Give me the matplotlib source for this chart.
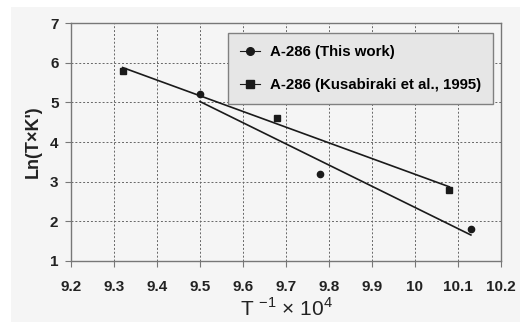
import matplotlib
matplotlib.use('Agg')
import matplotlib.pyplot as plt
import numpy as np

plt.rcParams['font.family'] = ['Liberation Sans', 'DejaVu Sans']
plt.rcParams['mathtext.fontset'] = 'custom'
plt.rcParams['mathtext.rm'] = 'Liberation Sans'

# data
x_this = [9.5, 9.78, 10.13]
y_this = [5.2, 3.2, 1.8]
x_kus = [9.32, 9.68, 10.08]
y_kus = [5.8, 4.6, 2.8]
label_this = 'A-286 (This work)'
label_kus = 'A-286 (Kusabiraki et al., 1995)'

fig = plt.figure(figsize=(5.2, 3.22), dpi=100, facecolor='white')
# light gray panel behind everything
fig.patches.append(plt.Rectangle((11/520, 0), 1, 1 - 7/322, transform=fig.transFigure,
                                 facecolor='#f5f5f5', edgecolor='none', zorder=-10))
ax = fig.add_axes([71/520, 1 - 261/322, 430/520, 238/322])
ax.set_facecolor('#f5f5f5')

# trend lines (least squares)
for xs, ys in [(x_this, y_this), (x_kus, y_kus)]:
    p = np.polyfit(xs, ys, 1)
    xx = np.array([min(xs), max(xs)])
    ax.plot(xx, np.polyval(p, xx), color='#1a1a1a', lw=1.2, zorder=3)

ax.plot(x_this, y_this, 'o', color='#1a1a1a', ms=4.5, zorder=4)
ax.plot(x_kus, y_kus, 's', color='#1a1a1a', ms=4.3, zorder=4)

# legend handles: marker with a short line through it
h1, = ax.plot([], [], '-o', color='#1a1a1a', ms=5.5, lw=0.8)
h2, = ax.plot([], [], '-s', color='#1a1a1a', ms=5.5, lw=0.8)
leg = ax.legend([h1, h2], [label_this, label_kus], loc='upper right',
                bbox_to_anchor=(0.981, 0.958), borderaxespad=0,
                prop={'weight': 'bold', 'size': 10.8},
                facecolor='#e6e6e6', edgecolor='#808080', framealpha=1,
                fancybox=False, handlelength=1.3, handletextpad=0.65,
                borderpad=0.8, labelspacing=1.3)
leg.get_frame().set_linewidth(1.0)

ax.set_xlim(9.2, 10.2)
ax.set_ylim(1, 7)
ax.set_xticks(np.arange(9.2, 10.21, 0.1))
ax.set_xticklabels(['9.2', '9.3', '9.4', '9.5', '9.6', '9.7', '9.8', '9.9', '10', '10.1', '10.2'])
ax.set_yticks(range(1, 8))
ax.grid(True, linestyle=(0, (2, 2)), color='#666666', lw=0.7)
ax.set_axisbelow(True)

for s in ax.spines.values():
    s.set_color('#777777')
    s.set_linewidth(1.0)
ax.tick_params(direction='out', length=4, color='#777777', labelcolor='#222222',
               labelsize=11)
ax.tick_params(axis='x', pad=10)
ax.tick_params(axis='y', pad=5)
for lab in ax.get_xticklabels() + ax.get_yticklabels():
    lab.set_fontweight('bold')

ax.set_ylabel("Ln(T×K')", fontsize=13, fontweight='bold', color='#222222', labelpad=6)
ax.set_xlabel(r'T $^{\mathrm{-1}}$ × 10$^{\mathrm{4}}$', fontsize=15, color='#222222', labelpad=2)

fig.savefig('out.png', dpi=100, facecolor=fig.get_facecolor())
